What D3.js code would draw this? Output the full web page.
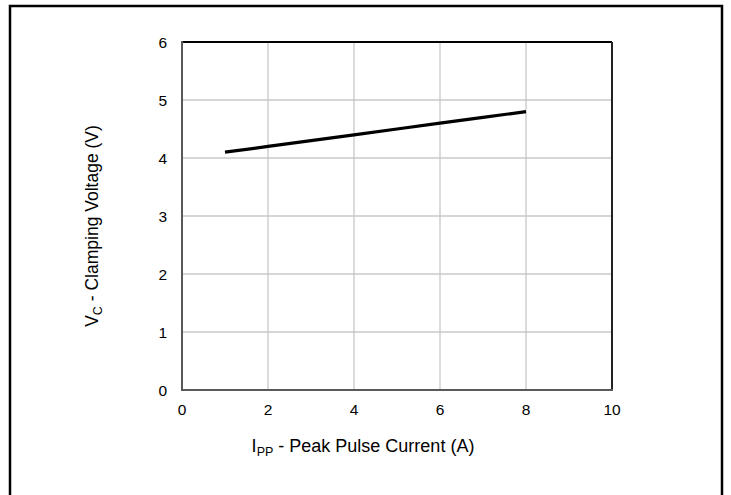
<!DOCTYPE html>
<html>
<head>
<meta charset="utf-8">
<script src="https://cdn.jsdelivr.net/npm/d3@7"></script>
<style>
	body { margin: 0; background: #fff; }
	text { font-family: "Liberation Sans", Arial, sans-serif; fill: #000; }
</style>
</head>
<body>
<script>
const currentA = [1, 2, 3, 4, 5, 6, 7, 8];
const clampV = [4.1, 4.2, 4.3, 4.4, 4.5, 4.6, 4.7, 4.8];
const xTicks = [0, 2, 4, 6, 8, 10];
const yTicks = [0, 1, 2, 3, 4, 5, 6];

const width = 731, height = 495;
const plot = { left: 182, right: 612, top: 42, bottom: 390 };

const svg = d3.select("body").append("svg")
	.attr("width", width)
	.attr("height", height);

//outer frame
svg.append("rect")
	.attr("x", 10).attr("y", 6)
	.attr("width", 712).attr("height", 500)
	.attr("fill", "none")
	.attr("stroke", "#000")
	.attr("stroke-width", 2.5);

const x = d3.scaleLinear().domain([0, 10]).range([plot.left, plot.right]);
const y = d3.scaleLinear().domain([0, 6]).range([plot.bottom, plot.top]);

//grid
svg.append("g").selectAll("line")
	.data(xTicks.slice(1, -1))
	.enter().append("line")
	.attr("x1", d => x(d)).attr("x2", d => x(d))
	.attr("y1", plot.top).attr("y2", plot.bottom)
	.attr("stroke", "#c8c8c8").attr("stroke-width", 1.3);

svg.append("g").selectAll("line")
	.data(yTicks.slice(1, -1))
	.enter().append("line")
	.attr("x1", plot.left).attr("x2", plot.right)
	.attr("y1", d => y(d)).attr("y2", d => y(d))
	.attr("stroke", "#c8c8c8").attr("stroke-width", 1.3);

//plot frame
svg.append("line")
	.attr("x1", plot.left).attr("x2", plot.right)
	.attr("y1", plot.top).attr("y2", plot.top)
	.attr("stroke", "#000").attr("stroke-width", 2);
svg.append("line")
	.attr("x1", plot.right).attr("x2", plot.right)
	.attr("y1", plot.top).attr("y2", plot.bottom)
	.attr("stroke", "#222").attr("stroke-width", 2);
svg.append("line")
	.attr("x1", plot.left).attr("x2", plot.left)
	.attr("y1", plot.top - 1).attr("y2", plot.bottom + 1)
	.attr("stroke", "#595959").attr("stroke-width", 2);
svg.append("line")
	.attr("x1", plot.left - 1).attr("x2", plot.right + 1)
	.attr("y1", plot.bottom).attr("y2", plot.bottom)
	.attr("stroke", "#595959").attr("stroke-width", 2);

//tick labels
svg.append("g").selectAll("text")
	.data(yTicks)
	.enter().append("text")
	.attr("x", plot.left - 15)
	.attr("y", d => y(d) + 5.5)
	.attr("text-anchor", "end")
	.attr("font-size", 15.5)
	.text(d => d);

svg.append("g").selectAll("text")
	.data(xTicks)
	.enter().append("text")
	.attr("x", d => x(d))
	.attr("y", plot.bottom + 25)
	.attr("text-anchor", "middle")
	.attr("font-size", 15.5)
	.text(d => d);

//axis titles
const xt = svg.append("text")
	.attr("x", 363).attr("y", 452)
	.attr("text-anchor", "middle")
	.attr("font-size", 18);
xt.append("tspan").text("I");
xt.append("tspan").attr("font-size", 12.5).attr("dy", 4).text("PP");
xt.append("tspan").attr("dy", -4).text(" - Peak Pulse Current (A)");

const yt = svg.append("text")
	.attr("transform", "translate(98,226) rotate(-90)")
	.attr("text-anchor", "middle")
	.attr("font-size", 17.5);
yt.append("tspan").text("V");
yt.append("tspan").attr("font-size", 12.5).attr("dy", 4).text("C");
yt.append("tspan").attr("dy", -4).text(" - Clamping Voltage (V)");

//data line
const line = d3.line()
	.x((d, i) => x(currentA[i]))
	.y(d => y(d));

svg.append("path")
	.datum(clampV)
	.attr("d", line)
	.attr("fill", "none")
	.attr("stroke", "#000")
	.attr("stroke-width", 3.2);
</script>
</body>
</html>
